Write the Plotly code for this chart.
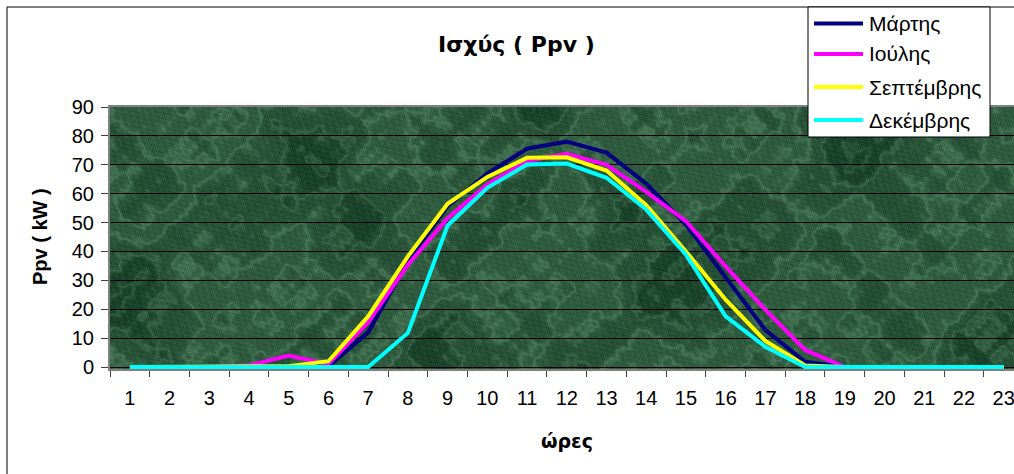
import base64
import struct
import zlib

import numpy as np
import plotly.graph_objects as go

# Hourly PV power output (kW) for four representative months
hours = [str(h) for h in range(1, 24)]

march = [0, 0, 0, 0, 0, 0.3, 12, 36.6, 55.7, 67, 75.6, 78, 74.2, 63.5, 49.3, 30.8, 12.8, 1.8, 0, 0, 0, 0, 0]
july = [0, 0, 0, 0.5, 4, 1, 15.5, 35.4, 51.5, 63.2, 71.3, 73.8, 70, 60.6, 50.5, 34.8, 19.8, 5.9, 0, 0, 0, 0, 0]
september = [0, 0, 0, 0, 0.3, 2, 17.5, 38.3, 56.5, 65.8, 72.4, 72.6, 68, 56, 40, 23.3, 9, 0.5, 0, 0, 0, 0, 0]
december = [0, 0, 0, 0, 0, 0, 0, 11.8, 49, 62, 70.1, 70.4, 65.5, 54.5, 38.9, 17.5, 7, 0, 0, 0, 0, 0, 0]

series = [
    ("Μάρτης", march, "#000080"),
    ("Ιούλης", july, "#FF00FF"),
    ("Σεπτέμβρης", september, "#FFFF00"),
    ("Δεκέμβρης", december, "#00FFFF"),
]

W, H = 1014, 474
ML, MR, MT, MB = 110, 0, 107, 105
PW, PH = W - ML - MR, H - MT - MB


def px(x):
    return (x - ML) / PW


def py(y):
    return (H - MB - y) / PH


def marble_png(w, h):
    """Green marble fill for the plot area, built from layered sine waves."""
    yy, xx = np.mgrid[0:h, 0:w].astype(float)
    waves = [
        (0.013, 0.021, 0.3, 1.0), (0.021, -0.017, 1.7, 0.8), (0.034, 0.041, 2.9, 0.6),
        (-0.047, 0.029, 0.4, 0.5), (0.071, 0.063, 5.1, 0.35), (0.093, -0.088, 3.3, 0.3),
        (0.13, 0.11, 1.1, 0.2), (-0.17, 0.19, 4.2, 0.15), (0.23, 0.27, 0.9, 0.12),
        (0.31, -0.29, 2.2, 0.1), (0.41, 0.37, 5.5, 0.08), (0.53, -0.61, 1.9, 0.07),
    ]
    field = np.zeros_like(xx)
    for fx, fy, ph, amp in waves:
        field += amp * np.sin(fx * xx + fy * yy + ph)
    grain = (np.sin(1.37 * xx + 0.91 * yy) * np.sin(0.83 * xx - 1.61 * yy)
             + np.sin(2.3 * xx + 1.9 * yy + 0.7) * np.sin(1.1 * yy - 0.4 * xx)
             + 0.7 * np.sin(0.61 * xx - 0.77 * yy + 2.1) * np.sin(0.52 * yy + 0.33 * xx))
    veins = 1 - np.abs(np.sin(field * 2.2))
    blotch = 0.5 + 0.5 * np.sin(field * 0.9 + 1.0)
    t = 0.12 + 0.22 * veins ** 2 + 0.2 * blotch + 0.06 * grain
    t = np.clip(t, 0, 1)[..., None]
    dark = np.array([10, 48, 26], float)
    light = np.array([125, 180, 140], float)
    rgb = (dark + (light - dark) * t).astype(np.uint8)
    raw = b"".join(b"\x00" + rgb[r].tobytes() for r in range(h))

    def chunk(tag, data):
        return (struct.pack(">I", len(data)) + tag + data
                + struct.pack(">I", zlib.crc32(tag + data) & 0xFFFFFFFF))

    png = (b"\x89PNG\r\n\x1a\n"
           + chunk(b"IHDR", struct.pack(">IIBBBBB", w, h, 8, 2, 0, 0, 0))
           + chunk(b"IDAT", zlib.compress(raw, 9))
           + chunk(b"IEND", b""))
    return "data:image/png;base64," + base64.b64encode(png).decode()


fig = go.Figure()
for name, vals, color in series:
    fig.add_trace(go.Scatter(
        x=hours, y=vals, name=name, mode="lines",
        line=dict(color=color, width=4),
        showlegend=False,
    ))

font = "Liberation Sans, Arial, sans-serif"

shapes = [
    # chart frame
    dict(type="rect", xref="paper", yref="paper",
         x0=px(7), x1=px(1040), y0=py(7), y1=py(500),
         line=dict(color="black", width=1), fillcolor="rgba(0,0,0,0)", layer="above"),
    # legend box
    dict(type="rect", xref="paper", yref="paper",
         x0=px(808), x1=px(990), y0=py(7), y1=py(137),
         line=dict(color="black", width=1), fillcolor="white", layer="above"),
]
annotations = []
legend_rows = [23.5, 54, 87, 120]
for (name, vals, color), yy in zip(series, legend_rows):
    shapes.append(dict(type="line", xref="paper", yref="paper",
                       x0=px(814), x1=px(863), y0=py(yy), y1=py(yy),
                       line=dict(color=color, width=4), layer="above"))
    annotations.append(dict(xref="paper", yref="paper", x=px(867), y=py(yy),
                            xanchor="left", yanchor="middle", showarrow=False,
                            text=name, font=dict(family=font, size=21, color="black")))

annotations += [
    dict(xref="paper", yref="paper", x=px(516), y=py(44), xanchor="center", yanchor="middle",
         showarrow=False, text="<b>Ισχύς ( Ppv )</b>",
         font=dict(family="DejaVu Sans, sans-serif", size=22, color="black")),
    dict(xref="paper", yref="paper", x=px(40), y=py(237), xanchor="center", yanchor="middle",
         showarrow=False, text="<b>Ppv ( kW )</b>", textangle=-90,
         font=dict(family=font, size=20, color="black")),
    dict(xref="paper", yref="paper", x=px(567), y=py(441), xanchor="center", yanchor="middle",
         showarrow=False, text="<b>ώρες</b>",
         font=dict(family="DejaVu Sans, sans-serif", size=19, color="black")),
]

fig.update_layout(
    width=W, height=H,
    margin=dict(l=ML, r=MR, t=MT, b=MB, pad=0),
    paper_bgcolor="white",
    plot_bgcolor="rgba(0,0,0,0)",
    showlegend=False,
    shapes=shapes,
    annotations=annotations,
    images=[dict(source=marble_png(PW, PH), xref="paper", yref="paper",
                 x=0, y=1, sizex=1, sizey=1, xanchor="left", yanchor="top",
                 sizing="stretch", layer="below")],
    xaxis=dict(
        type="category", categoryorder="array", categoryarray=hours,
        range=[-0.5, -0.5 + PW / 39.72],
        tickson="boundaries", ticks="outside", ticklen=6, tickwidth=1, tickcolor="#404040",
        showgrid=False, showline=True, linecolor="#808080", linewidth=2, mirror=True,
        tickfont=dict(family=font, size=20, color="black"),
        ticklabelstandoff=10,
        zeroline=False, fixedrange=True,
    ),
    yaxis=dict(
        range=[-0.69, 90], tickmode="array", tickvals=list(range(0, 91, 10)),
        ticks="outside", ticklen=7, tickwidth=1, tickcolor="#404040",
        showgrid=True, gridcolor="black", gridwidth=1,
        showline=True, linecolor="#808080", linewidth=2,
        zeroline=False,
        tickfont=dict(family=font, size=20, color="black"),
        ticklabelstandoff=3,
        fixedrange=True,
    ),
)

fig.write_html("out.html")
